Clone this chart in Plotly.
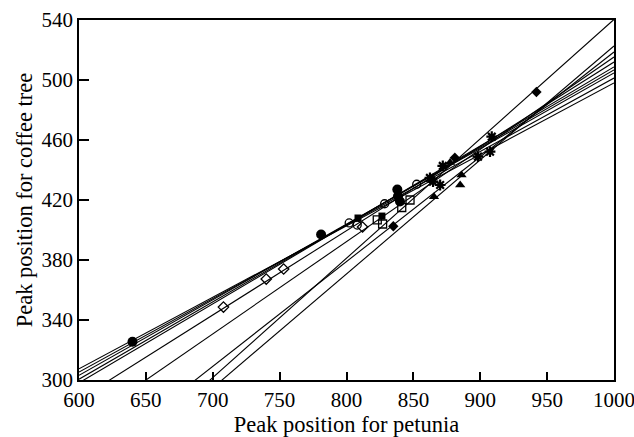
import plotly.graph_objects as go

# Fitted line end values (y at x=600 and x=1000)
fit_x = [600, 1000]
line_names = ["filled circle", "filled square", "star b", "open circle", "star a",
              "open diamond", "open square", "triangle a", "triangle b", "filled diamond"]
line_y600 = [307.5, 305.3, 303.1, 300.5, 298.1, 287.1, 269.2, 239.2, 218.7, 222.0]
line_y1000 = [498.0, 501.3, 504.7, 506.7, 508.7, 512.0, 515.3, 518.7, 522.7, 540.4]

# Data points per series
filled_circle_x = [640, 781, 838, 838.5, 840]
filled_circle_y = [325.5, 397, 427, 422.5, 419]
filled_square_x = [808.6, 826.5, 839]
filled_square_y = [408, 409.3, 421]
star_b_x = [864.7, 870, 898.3, 907.3]
star_b_y = [432.2, 430, 448.9, 452.2]
open_circle_x = [802, 808, 828.5, 852.5]
open_circle_y = [404.7, 403.3, 417.5, 430.5]
star_a_x = [862.4, 872, 908.6]
star_a_y = [434.7, 442.7, 462.2]
open_diamond_x = [708, 740, 753, 812]
open_diamond_y = [348.6, 367.3, 374, 402]
open_square_x = [823, 827, 841.3, 847.5]
open_square_y = [406.7, 404, 415, 420]
triangle_a_x = [877.4, 886]
triangle_a_y = [445, 436.7]
triangle_b_x = [865.4, 885]
triangle_b_y = [422.2, 430]
filled_diamond_x = [835, 881, 942]
filled_diamond_y = [402.5, 448.2, 492]

x_ticks = [600, 650, 700, 750, 800, 850, 900, 950, 1000]
y_ticks = [300, 340, 380, 420, 460, 500, 540]

fig = go.Figure()

for i in range(len(line_names)):
    fig.add_trace(go.Scatter(x=fit_x, y=[line_y600[i], line_y1000[i]], mode="lines",
                             line=dict(color="black", width=1.1), showlegend=False,
                             hoverinfo="skip"))

series = [
    (filled_circle_x, filled_circle_y, "circle", 10, 0),
    (filled_square_x, filled_square_y, "square", 7, 0),
    (open_circle_x, open_circle_y, "circle-open", 8, 1.3),
    (open_diamond_x, open_diamond_y, "diamond-open", 8, 1.3),
    (open_square_x, open_square_y, "square-open", 8, 1.3),
    (triangle_a_x, triangle_a_y, "triangle-up", 9, 0),
    (triangle_b_x, triangle_b_y, "triangle-up", 9, 0),
    (filled_diamond_x, filled_diamond_y, "diamond", 8, 0),
    (star_a_x, star_a_y, "asterisk-open", 9, 2.2),
    (star_b_x, star_b_y, "asterisk-open", 9, 2.2),
]
for sx, sy, sym, size, lw in series:
    fig.add_trace(go.Scatter(x=sx, y=sy, mode="markers", showlegend=False,
                             marker=dict(symbol=sym, size=size, color="black",
                                         line=dict(color="black", width=lw))))

font_family = "Liberation Serif, Times New Roman, serif"
fig.update_layout(
    width=634, height=437,
    margin=dict(l=79, r=20, t=20, b=57, autoexpand=False),
    plot_bgcolor="white", paper_bgcolor="white",
    font=dict(family=font_family, size=22, color="black"),
)
fig.update_xaxes(range=[600, 1000], tickvals=x_ticks, ticks="inside", ticklen=8,
                 tickwidth=1.5, tickcolor="black", showline=True, linecolor="black",
                 linewidth=1.5, mirror=True, showgrid=False, zeroline=False,
                 automargin=False, ticklabeloverflow="allow",
                 title=dict(text="Peak position for petunia", standoff=4,
                            font=dict(size=22.5)),
                 tickfont=dict(size=21))
fig.update_yaxes(range=[300, 540], tickvals=y_ticks, ticks="inside", ticklen=10,
                 tickwidth=1.5, tickcolor="black", showline=True, linecolor="black",
                 linewidth=1.5, mirror=True, showgrid=False, zeroline=False,
                 automargin=False, ticklabeloverflow="allow",
                 title=dict(text="Peak position for coffee tree", standoff=3,
                            font=dict(size=22.5)),
                 tickfont=dict(size=21))

fig.write_html("out.html", config={"displayModeBar": False},
               post_script="document.body.style.margin='0px';document.body.style.overflow='hidden';")
